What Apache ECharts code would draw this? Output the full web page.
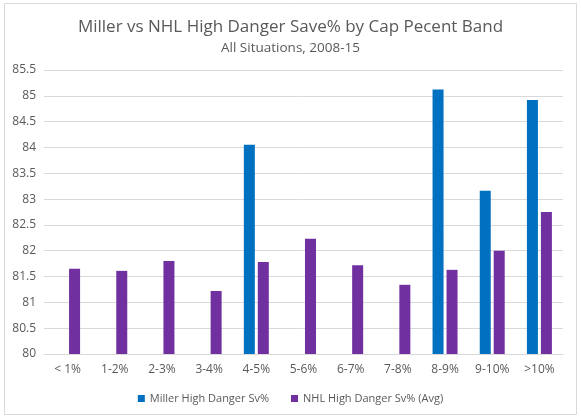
<!DOCTYPE html>
<html><head><meta charset="utf-8">
<script src="https://cdn.jsdelivr.net/npm/echarts@6/dist/echarts.min.js"></script>
<style>html,body{margin:0;padding:0;background:#fff}#c{width:581px;height:420px}</style>
</head><body><div id="c"></div>
<script>
const categories = ['< 1%','1-2%','2-3%','3-4%','4-5%','5-6%','6-7%','7-8%','8-9%','9-10%','>10%'];
const millerValues = [null,null,null,null,84.05,null,null,null,85.12,83.16,84.92];
const nhlValues = [81.65,81.61,81.80,81.22,81.78,82.23,81.72,81.34,81.63,82.00,82.75];
const yTicks = {min:80, max:85.5, interval:0.5};
const ff = '"Open Sans", sans-serif';
const chart = echarts.init(document.getElementById('c'), null, {renderer:'canvas'});
chart.setOption({
  animation:false,
  backgroundColor:'#fff',
  title:{
    text:'Miller vs NHL High Danger Save% by Cap Pecent Band',
    subtext:'All Situations, 2008-15',
    left:'center', top:14, itemGap:5,
    textStyle:{fontFamily:ff,fontSize:17,fontWeight:'normal',color:'#595959'},
    subtextStyle:{fontFamily:ff,fontSize:13.5,color:'#595959'}
  },
  graphic:[{type:'rect',shape:{x:4.5,y:3.5,width:572,height:411},style:{fill:'none',stroke:'#d9d9d9',lineWidth:1},silent:true}],
  legend:{
    top:388, left:'center', itemWidth:7, itemHeight:7, itemGap:22,
    icon:'rect',
    textStyle:{fontFamily:ff,fontSize:11,color:'#595959'},
    data:['Miller High Danger Sv%','NHL High Danger Sv% (Avg)']
  },
  grid:{left:44,right:18,top:70,bottom:66,containLabel:false},
  xAxis:{
    type:'category', data:categories,
    axisLine:{lineStyle:{color:'#d9d9d9'}},
    axisTick:{show:false},
    axisLabel:{fontFamily:ff,fontSize:12,color:'#595959',margin:10}
  },
  yAxis:{
    type:'value', min:yTicks.min, max:yTicks.max, interval:yTicks.interval,
    axisLine:{show:false}, axisTick:{show:false},
    splitLine:{lineStyle:{color:'#d9d9d9'}},
    axisLabel:{fontFamily:ff,fontSize:12,color:'#595959',margin:8}
  },
  series:[
    {name:'Miller High Danger Sv%',type:'bar',data:millerValues,barWidth:11,barGap:'27%',itemStyle:{color:'#0070C0'}},
    {name:'NHL High Danger Sv% (Avg)',type:'bar',data:nhlValues,barWidth:11,itemStyle:{color:'#7030A0'}}
  ]
});
</script></body></html>
